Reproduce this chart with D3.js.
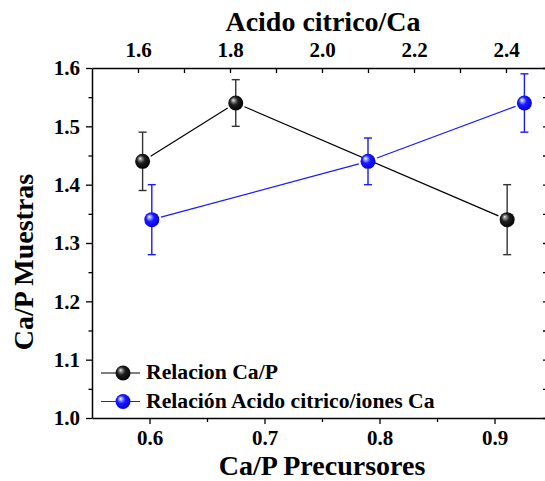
<!DOCTYPE html>
<html>
<head>
<meta charset="utf-8">
<script src="https://cdn.jsdelivr.net/npm/d3@7"></script>
<style>
body { margin: 0; background: #fff; }
svg text { font-family: "Liberation Serif", "Times New Roman", serif; font-weight: bold; fill: #000; }
.axis path, .axis line { stroke: #000; }
</style>
</head>
<body>
<script>
// Relacion Ca/P  (plotted against the bottom axis)
const caPx = [0.594, 0.675, 0.911];
const caPy = [1.44, 1.54, 1.34];
const caPerr = [0.05, 0.04, 0.06];

// Relacion Acido citrico/iones Ca  (plotted against the top axis)
const acX = [1.63, 2.10, 2.44];
const acY = [1.34, 1.44, 1.54];
const acErr = [0.06, 0.04, 0.05];

const bottomTicks = [0.6, 0.7, 0.8, 0.9],
    bottomMinor = [0.65, 0.75, 0.85, 0.95];
const topTicks = [1.6, 1.8, 2.0, 2.2, 2.4],
    topMinor = [1.7, 1.9, 2.1, 2.3, 2.5];
const yTicks = [1.0, 1.1, 1.2, 1.3, 1.4, 1.5, 1.6],
    yMinor = [1.05, 1.15, 1.25, 1.35, 1.45, 1.55];

const legendLabels = ["Relacion Ca/P", "Relación Acido citrico/iones Ca"];
const titles = { top: "Acido citrico/Ca", bottom: "Ca/P Precursores", left: "Ca/P Muestras" };

var width = 545, height = 481;
var plot = { left: 92, top: 68, right: 552, bottom: 418 };

var svg = d3.select("body").append("svg")
    .attr("width", width)
    .attr("height", height);

var x = d3.scaleLinear().domain([0.55, 0.95]).range([plot.left, plot.right]);
var xTop = d3.scaleLinear().domain([1.5, 2.5]).range([plot.left, plot.right]);
var y = d3.scaleLinear().domain([1.0, 1.6]).range([plot.bottom, plot.top]);
var fmt = d3.format(".1f");

// sphere-like markers
var defs = svg.append("defs");
function sphere(id, stops) {
    var g = defs.append("radialGradient").attr("id", id)
        .attr("cx", "45%").attr("cy", "45%").attr("r", "60%")
        .attr("fx", "33%").attr("fy", "30%");
    stops.forEach(s => g.append("stop").attr("offset", s[0]).attr("stop-color", s[1]));
}
sphere("ballBlack", [["0%", "#f4f4f4"], ["18%", "#8a8a8a"], ["45%", "#1e1e1e"], ["100%", "#000"]]);
sphere("ballBlue", [["0%", "#ffffff"], ["18%", "#9aa0ff"], ["45%", "#1a1aff"], ["100%", "#0000d8"]]);

// axes: major + minor ticks
function drawAxis(axisFn, scale, major, minor, transform, sizeMajor, sizeMinor, pad, labels) {
    var g = svg.append("g").attr("class", "axis").attr("transform", transform);
    g.call(axisFn(scale).tickValues(major).tickSizeInner(sizeMajor).tickSizeOuter(0)
        .tickPadding(pad).tickFormat(labels ? fmt : ""));
    g.select(".domain").attr("stroke-width", 1.5);
    g.selectAll(".tick line").attr("stroke-width", 1.3);
    g.selectAll("text").attr("font-size", 21).attr("fill", "#000");
    var m = svg.append("g").attr("class", "axis").attr("transform", transform);
    m.call(axisFn(scale).tickValues(minor).tickSizeInner(sizeMinor).tickSizeOuter(0).tickFormat(""));
    m.select(".domain").remove();
    m.selectAll(".tick line").attr("stroke-width", 1.3);
    return g;
}

drawAxis(d3.axisBottom, x, bottomTicks, bottomMinor, "translate(0," + plot.bottom + ")", 6, 4, 6, true);
drawAxis(d3.axisTop, xTop, topTicks, topMinor, "translate(0," + plot.top + ")", -5, -5, 11, true);
drawAxis(d3.axisLeft, y, yTicks, yMinor, "translate(" + plot.left + ",0)", 6, 3.5, 6, true);
drawAxis(d3.axisRight, y, yTicks, yMinor, "translate(" + plot.right + ",0)", -9, -9, 0, false);

// axis titles
svg.append("text").attr("x", 323).attr("y", 31).attr("text-anchor", "middle")
    .attr("font-size", 28).text(titles.top);
svg.append("text").attr("x", 322).attr("y", 475).attr("text-anchor", "middle")
    .attr("font-size", 28).text(titles.bottom);
svg.append("text").attr("transform", "translate(33,262) rotate(-90)").attr("text-anchor", "middle")
    .attr("font-size", 28).text(titles.left);

var R = 7.5;

// connecting lines with small gaps at the markers
function drawLine(pts, color) {
    for (var i = 0; i < pts.length - 1; i++) {
        var a = pts[i], b = pts[i + 1];
        var dx = b[0] - a[0], dy = b[1] - a[1], len = Math.sqrt(dx * dx + dy * dy);
        var k = (R + 2) / len;
        svg.append("line")
            .attr("x1", a[0] + dx * k).attr("y1", a[1] + dy * k)
            .attr("x2", b[0] - dx * k).attr("y2", b[1] - dy * k)
            .attr("stroke", color).attr("stroke-width", 1.2);
    }
}

function drawErrors(px, ys, errs, color) {
    px.forEach((cx, i) => {
        var y1 = y(ys[i] + errs[i]), y2 = y(ys[i] - errs[i]);
        var g = svg.append("g").attr("stroke", color).attr("stroke-width", 1.4);
        g.append("line").attr("x1", cx).attr("x2", cx).attr("y1", y1).attr("y2", y2);
        g.append("line").attr("x1", cx - 4).attr("x2", cx + 4).attr("y1", y1).attr("y2", y1);
        g.append("line").attr("x1", cx - 4).attr("x2", cx + 4).attr("y1", y2).attr("y2", y2);
    });
}

var caPts = caPx.map((v, i) => [x(v), y(caPy[i])]);
var acPts = acX.map((v, i) => [xTop(v), y(acY[i])]);

drawLine(caPts, "#000");
drawLine(acPts, "#1a1aff");
drawErrors(caPts.map(p => p[0]), caPy, caPerr, "#333");
drawErrors(acPts.map(p => p[0]), acY, acErr, "#1a1aff");

svg.selectAll(".ballCa").data(caPts).enter().append("circle")
    .attr("cx", d => d[0]).attr("cy", d => d[1]).attr("r", R)
    .attr("fill", "url(#ballBlack)");
svg.selectAll(".ballAc").data(acPts).enter().append("circle")
    .attr("cx", d => d[0]).attr("cy", d => d[1]).attr("r", R)
    .attr("fill", "url(#ballBlue)");

// legend
var legend = svg.append("g").attr("transform", "translate(101,373)");
[["#000", "url(#ballBlack)"], ["#1a1aff", "url(#ballBlue)"]].forEach((c, i) => {
    var row = legend.append("g").attr("transform", "translate(0," + (i * 28.5) + ")");
    row.append("line").attr("x1", 0).attr("x2", 39).attr("stroke", c[0]).attr("stroke-width", 1.2);
    row.append("circle").attr("cx", 22).attr("r", R).attr("fill", c[1]);
    row.append("text").attr("x", 45).attr("y", 6).attr("font-size", 21.7).text(legendLabels[i]);
});
</script>
</body>
</html>
